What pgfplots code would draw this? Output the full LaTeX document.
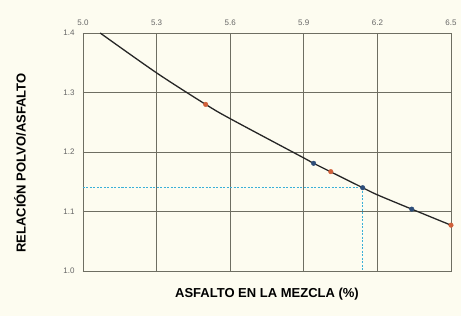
\documentclass[border=0pt]{standalone}
\usepackage{pgfplots}
\pgfplotsset{compat=1.18}
\usepackage{fontspec}
\setmainfont{Liberation Sans}
\definecolor{cream}{HTML}{FDFCF0}
\definecolor{gridc}{HTML}{6E6E62}
\definecolor{redm}{HTML}{D0603A}
\definecolor{bluem}{HTML}{2E4E7A}
\definecolor{cyand}{HTML}{3AB0D8}
\usetikzlibrary{backgrounds}
\begin{document}
\begin{tikzpicture}
\begin{axis}[
  scale only axis, width=368pt, height=238pt,
  xmin=5.0, xmax=6.5, ymin=1.0, ymax=1.4,
  xtick={5.0,5.3,5.6,5.9,6.2,6.5},
  ytick={1.0,1.1,1.2,1.3,1.4},
  axis x line*=top,
  axis y line*=left,
  grid=major,
  major grid style={gridc, line width=0.7pt},
  axis line style={gridc, line width=0.7pt},
  tick style={draw=none},
  xticklabel style={font=\fontsize{8}{9}\selectfont, text=black!60, yshift=4pt},
  yticklabel style={font=\fontsize{8}{9}\selectfont, text=black!60, xshift=-5pt},
  /pgf/number format/assume math mode=true,
  /pgf/number format/fixed, /pgf/number format/fixed zerofill, /pgf/number format/precision=1,
  clip=false,
]
\addplot[gridc, line width=0.7pt, forget plot] coordinates {(5.0,1.0) (6.5,1.0) (6.5,1.4)};
\addplot[cyand, dash pattern=on 2pt off 1.5pt, line width=1.4pt] coordinates {(5.0,1.14) (6.14,1.14)};
\addplot[cyand, dash pattern=on 2pt off 1.5pt, line width=1.1pt] coordinates {(6.14,1.14) (6.14,1.0)};
\addplot[black!85, line width=1.3pt, smooth, tension=0.5] coordinates {
 (5.07,1.400) (5.3,1.333) (5.5,1.280) (5.6,1.256) (5.9,1.190) (5.94,1.181) (6.14,1.140) (6.2,1.128) (6.34,1.104) (6.5,1.077)};
\addplot[only marks, mark=*, mark size=2.3pt, redm] coordinates {(5.5,1.28) (6.01,1.167) (6.5,1.077)};
\addplot[only marks, mark=*, mark size=2.3pt, bluem] coordinates {(5.94,1.181) (6.14,1.14) (6.34,1.104)};
\end{axis}
\node[font=\fontsize{13}{15}\selectfont\bfseries] at (184pt,-23pt) {ASFALTO EN LA MEZCLA (\%)};
\node[font=\fontsize{13}{15}\selectfont\bfseries, rotate=90] at (-63pt,108pt) {RELACIÓN POLVO/ASFALTO};
\begin{pgfonlayer}{background}
\fill[cream] (-83pt,-45pt) rectangle (378pt,271pt);
\end{pgfonlayer}
\pgfresetboundingbox
\path (-83pt,-45pt) rectangle (378pt,271pt);
\end{tikzpicture}
\end{document}
